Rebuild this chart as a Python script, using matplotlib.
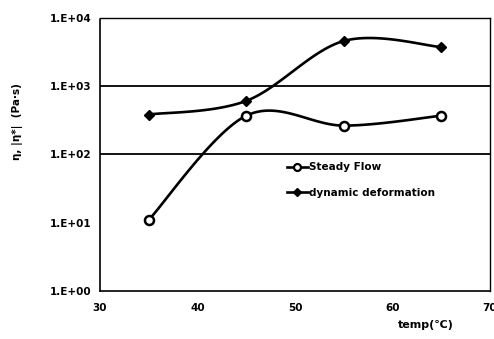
import numpy as np
import matplotlib
matplotlib.use("Agg")
import matplotlib.pyplot as plt
from matplotlib.lines import Line2D

temps = [35, 45, 55, 65]
steady_flow = [11, 370, 265, 370]
dynamic_deformation = [385, 610, 4600, 3750]
y_ticks = [1, 10, 100, 1000, 10000]
y_tick_labels = ["1.E+00", "1.E+01", "1.E+02", "1.E+03", "1.E+04"]
x_ticks = [30, 40, 50, 60, 70]

plt.rcParams['font.family'] = ['DejaVu Sans']
plt.rcParams['font.weight'] = 'bold'


def smooth(xs, ys, n=40):
    """Catmull-Rom style smoothing in (x, log10 y) space."""
    xs = np.asarray(xs, float)
    ly = np.log10(np.asarray(ys, float))
    pts = np.column_stack([xs, ly])
    out = []
    m = len(pts)
    for i in range(m - 1):
        p0 = pts[max(i - 1, 0)]
        p1 = pts[i]
        p2 = pts[i + 1]
        p3 = pts[min(i + 2, m - 1)]
        c1 = p1 + (p2 - p0) / 6.0
        c2 = p2 - (p3 - p1) / 6.0
        t = np.linspace(0, 1, n)[:, None]
        seg = ((1 - t) ** 3) * p1 + 3 * ((1 - t) ** 2) * t * c1 + 3 * (1 - t) * t ** 2 * c2 + t ** 3 * p2
        out.append(seg if i == 0 else seg[1:])
    curve = np.vstack(out)
    return curve[:, 0], 10 ** curve[:, 1]


fig = plt.figure(figsize=(4.94, 3.39), dpi=100)
ax = fig.add_axes([0.2024, 0.1416, 0.7896, 0.8054])

ax.set_yscale('log')
ax.set_xlim(30, 70)
ax.set_ylim(1, 10000)

# horizontal guide lines
for yv in (100, 1000):
    ax.axhline(yv, color='black', lw=1.3, zorder=1)

lw = 1.9
sx, sy = smooth(temps, steady_flow)
ax.plot(sx, sy, color='black', lw=lw, zorder=2)
ax.plot(temps, steady_flow, linestyle='none', marker='o', ms=6.5,
        mfc='white', mec='black', mew=1.8, zorder=3)

dx, dy = smooth(temps, dynamic_deformation)
ax.plot(dx, dy, color='black', lw=lw, zorder=2)
ax.plot(temps, dynamic_deformation, linestyle='none', marker='D', ms=5.5,
        mfc='black', mec='black', zorder=3)

ax.set_yticks(y_ticks)
ax.set_yticklabels(y_tick_labels)
ax.yaxis.set_minor_locator(matplotlib.ticker.NullLocator())
ax.set_xticks(x_ticks)
ax.tick_params(axis='both', length=0, labelsize=7.5, pad=6)
ax.tick_params(axis='x', pad=9)
for lab in ax.get_xticklabels() + ax.get_yticklabels():
    lab.set_fontweight('bold')

for side in ('top', 'right'):
    ax.spines[side].set_linestyle((0, (1, 1)))
    ax.spines[side].set_linewidth(1.0)
for side in ('left', 'bottom'):
    ax.spines[side].set_linestyle((0, (3, 1)))
    ax.spines[side].set_linewidth(1.2)

handles = [
    Line2D([], [], color='black', lw=lw, marker='o', ms=5, mfc='white', mec='black', mew=1.6),
    Line2D([], [], color='black', lw=lw, marker='D', ms=4.5, mfc='black', mec='black'),
]
ax.legend(handles, ['Steady Flow', 'dynamic deformation'], loc='upper left',
          bbox_to_anchor=(0.455, 0.505), frameon=False, handlelength=2.0,
          handletextpad=0.1, labelspacing=1.45, prop={'size': 7.5, 'weight': 'bold'})

fig.text(0.036, 0.64, 'η, |η*|  (Pa·s)', rotation=90, ha='center', va='center',
         fontsize=7.5, fontweight='bold')
fig.text(0.862, 0.04, 'temp(℃)', ha='center', va='center',
         fontsize=8, fontweight='bold')

fig.savefig('out.png', dpi=100)
